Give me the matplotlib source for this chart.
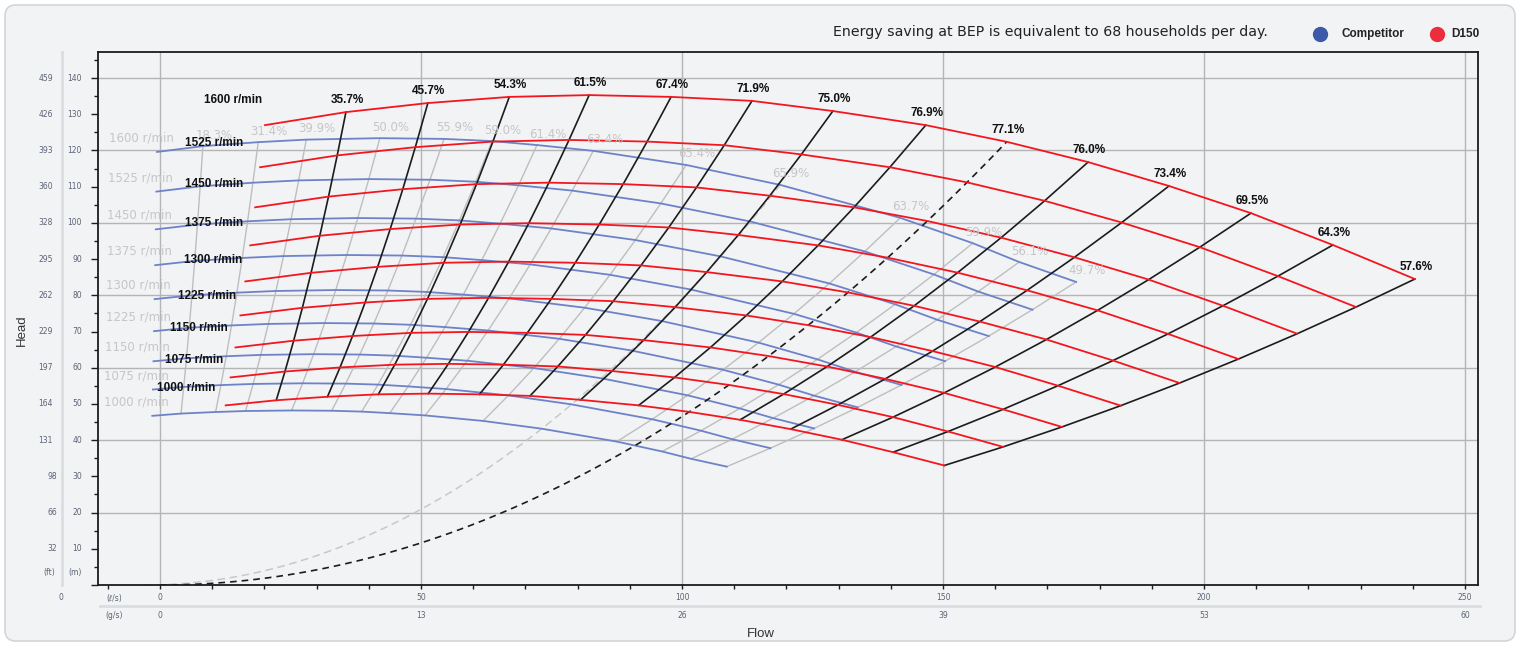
import numpy as np
import matplotlib
matplotlib.use('Agg')
import matplotlib.pyplot as plt
from matplotlib.patches import FancyBboxPatch
from matplotlib.lines import Line2D
from matplotlib.ticker import MultipleLocator
from matplotlib.transforms import blended_transform_factory

# ---- data -------------------------------------------------------------------
speeds = [1600, 1525, 1450, 1375, 1300, 1225, 1150, 1075, 1000]   # r/min

# D150 at 1600 r/min: first point = curve start, then one point per efficiency line
d150_flow = [20.1, 35.6, 51.3, 66.9, 82.2, 97.9, 113.4, 128.9, 146.7, 162.2,
             177.8, 193.3, 209.0, 224.7, 240.4]
d150_head = [127.0, 130.6, 133.1, 134.8, 135.3, 134.8, 133.7, 130.9, 127.0, 122.4,
             116.8, 110.2, 102.7, 93.9, 84.5]
d150_eff = ['', '35.7%', '45.7%', '54.3%', '61.5%', '67.4%', '71.9%', '75.0%',
            '76.9%', '77.1%', '76.0%', '73.4%', '69.5%', '64.3%', '57.6%']
d150_bep = 9

# Competitor at 1600 r/min
comp_flow = [-0.6, 8.2, 18.8, 28.0, 42.1, 54.4, 63.6, 72.2, 83.0, 100.8,
             118.8, 141.8, 155.7, 164.6, 175.5]
comp_head = [119.6, 121.2, 122.3, 123.0, 123.4, 123.2, 122.6, 121.5, 119.9, 116.0,
             110.5, 101.4, 94.4, 89.2, 83.7]
comp_eff = ['', '18.3%', '31.4%', '39.9%', '50.0%', '55.9%', '59.0%', '61.4%',
            '63.4%', '65.4%', '65.9%', '63.7%', '59.9%', '56.1%', '49.7%']
comp_bep = 10
comp_q0 = -3.0      # flow origin the competitor curves scale about

head_m = [10, 20, 30, 40, 50, 60, 70, 80, 90, 100, 110, 120, 130, 140]
head_ft = ['32', '66', '98', '131', '164', '197', '229', '262', '295', '328',
           '360', '393', '426', '459']
flow_ls = [0, 50, 100, 150, 200, 250]
flow_gs = ['0', '13', '26', '39', '53', '60']

# ---- style -----------------------------------------------------------------
BG = '#f2f3f5'
RED = '#f4161f'
BLUE = '#6e82c8'
BLACK = '#1c1c1c'
LGRAY = '#bebebe'
TXT = '#5b6275'
W, H = 1520, 646


def fx(px):
    return px / W


def fy(py):
    return 1 - py / H


fig = plt.figure(figsize=(W / 100, H / 100), dpi=100)
fig.patch.set_facecolor('white')
card = FancyBboxPatch((fx(5), fy(641)), fx(1510), 636 / H,
                      boxstyle='round,pad=0,rounding_size=0.007',
                      mutation_aspect=W / H, transform=fig.transFigure,
                      facecolor=BG, edgecolor='#d3d5d9', lw=1.2, zorder=-10)
fig.patches.append(card)

ax = fig.add_axes([fx(98), fy(585), fx(1478) - fx(98), (585 - 52) / H])
ax.set_facecolor(BG)
ax.set_xlim(-11.9, 252.5)
ax.set_ylim(0, 147.2)
for sp in ax.spines.values():
    sp.set_color(BLACK)
    sp.set_linewidth(1.3)

ax.xaxis.set_major_locator(MultipleLocator(50))
ax.xaxis.set_minor_locator(MultipleLocator(10))
ax.yaxis.set_major_locator(MultipleLocator(10))
ax.yaxis.set_minor_locator(MultipleLocator(5))
ax.tick_params(which='both', direction='out', colors=BLACK, labelleft=False,
               labelbottom=False, width=1)
ax.tick_params(axis='x', which='both', length=3)
ax.tick_params(axis='y', which='major', length=5)
ax.tick_params(axis='y', which='minor', length=3)
ax.grid(axis='x', which='major', color='#b5b5b5', lw=1, zorder=0)
for m in head_m:
    if m % 20 == 0:
        ax.axhline(m, color='#b5b5b5', lw=1, zorder=0)

s_all = np.array(speeds) / speeds[0]
s_sys = np.linspace(0, 1, 80)

# ---- competitor -------------------------------------------------------------
cq = np.array(comp_flow)
ch = np.array(comp_head)
for n in speeds:
    s = n / speeds[0]
    ax.plot(comp_q0 + (cq - comp_q0) * s, ch * s ** 2, color=BLUE, lw=1.3, zorder=3)
    ax.annotate(f'{n} r/min', (comp_q0 + (cq[0] - comp_q0) * s, ch[0] * s ** 2),
                xytext=(-16 * 0.72, 14 * 0.72), textcoords='offset points',
                ha='center', va='center', fontsize=8.5, color='#c6c6c6',
                family='DejaVu Sans', zorder=6)
for i in range(1, len(cq)):
    if i == comp_bep:
        s = s_sys
        ax.plot(comp_q0 + (cq[i] - comp_q0) * s, ch[i] * s ** 2, color='#c8c8c8',
                lw=1.1, ls=(0, (5, 3)), zorder=2)
    else:
        s = s_all
        ax.plot(comp_q0 + (cq[i] - comp_q0) * s, ch[i] * s ** 2, color=LGRAY,
                lw=1.0, zorder=2)
    ax.annotate(comp_eff[i], (cq[i], ch[i]), xytext=(11 * 0.72, 11 * 0.72),
                textcoords='offset points', ha='center', va='center',
                fontsize=8.5, color='#c6c6c6', family='DejaVu Sans', zorder=6)

# ---- D150 -------------------------------------------------------------------
dq = np.array(d150_flow)
dh = np.array(d150_head)
label_off = [(-32, 25), (-46, 24), (-41, 23), (-36, 22), (-32, 21), (-33, 19),
             (-37, 19), (-36, 17), (-39, 17)]
for n, (ox, oy) in zip(speeds, label_off):
    s = n / speeds[0]
    ax.plot(dq * s, dh * s ** 2, color=RED, lw=1.3, zorder=5)
    ax.annotate(f'{n} r/min', (dq[0] * s, dh[0] * s ** 2),
                xytext=(ox * 0.72, oy * 0.72), textcoords='offset points',
                ha='center', va='center', fontsize=8.5, fontweight='bold',
                color='#111111', family='Liberation Sans', zorder=7)
for i in range(1, len(dq)):
    if i == d150_bep:
        s = s_sys
        ax.plot(dq[i] * s, dh[i] * s ** 2, color=BLACK, lw=1.2, ls=(0, (4, 3)), zorder=4)
    else:
        s = s_all
        ax.plot(dq[i] * s, dh[i] * s ** 2, color=BLACK, lw=1.2, zorder=4)
    ax.annotate(d150_eff[i], (dq[i], dh[i]), xytext=(1 * 0.72, 12 * 0.72),
                textcoords='offset points', ha='center', va='center',
                fontsize=8.5, fontweight='bold', color='#111111',
                family='Liberation Sans', zorder=7)

# ---- axis labels ------------------------------------------------------------
ty = blended_transform_factory(fig.transFigure, ax.transData)
tx = blended_transform_factory(ax.transData, fig.transFigure)
for m, ft in zip(head_m, head_ft):
    fig.text(fx(82), m, str(m), transform=ty, ha='right', va='center',
             fontsize=5.5, color=TXT)
    fig.text(fx(53 + 4 * (3 - len(ft))), m, ft, transform=ty, ha='right',
             va='center', fontsize=5.5, color=TXT)
fig.text(fx(49), fy(572), '(ft)', ha='center', va='center', fontsize=5.5, color=TXT)
fig.text(fx(75), fy(572), '(m)', ha='center', va='center', fontsize=5.5, color=TXT)
fig.add_artist(Line2D([fx(62), fx(62)], [fy(52), fy(585)], color='#dcdde0',
                      lw=2, transform=fig.transFigure))

for q, g in zip(flow_ls, flow_gs):
    fig.text(q, fy(598), str(q), transform=tx, ha='center', va='center',
             fontsize=5.5, color=TXT)
    fig.text(q, fy(615), g, transform=tx, ha='center', va='center',
             fontsize=5.5, color=TXT)
fig.text(fx(114), fy(598), '(ℓ/s)', ha='center', va='center', fontsize=5.5, color=TXT)
fig.text(fx(114), fy(615), '(g/s)', ha='center', va='center', fontsize=5.5, color=TXT)
fig.text(fx(61), fy(597), '0', ha='center', va='center', fontsize=5.5, color=TXT)
fig.add_artist(Line2D([fx(100), fx(1480)], [fy(606), fy(606)], color='#dcdde0',
                      lw=2, transform=fig.transFigure))

fig.text(fx(761), fy(634), 'Flow', ha='center', va='center', fontsize=9.5,
         color='#333333', family='Liberation Sans')
fig.text(fx(22), fy(330), 'Head', ha='center', va='center', fontsize=9.5,
         rotation=90, color='#333333', family='Liberation Sans')

# ---- header -----------------------------------------------------------------
fig.text(fx(833), fy(32), 'Energy saving at BEP is equivalent to 68 households per day.',
         ha='left', va='center', fontsize=10.2, color='#222222', family='DejaVu Sans')
fig.add_artist(Line2D([fx(1320)], [fy(34)], marker='o', ms=10, color='#3d5aa8',
                      ls='none', transform=fig.transFigure))
fig.text(fx(1341), fy(34), 'Competitor', ha='left', va='center', fontsize=8.5,
         fontweight='bold', color='#222222', family='Liberation Sans')
fig.add_artist(Line2D([fx(1437)], [fy(34)], marker='o', ms=10, color='#ec2d3b',
                      ls='none', transform=fig.transFigure))
fig.text(fx(1451), fy(34), 'D150', ha='left', va='center', fontsize=8.5,
         fontweight='bold', color='#222222', family='Liberation Sans')

fig.savefig('out.png', dpi=100, facecolor=fig.get_facecolor())
